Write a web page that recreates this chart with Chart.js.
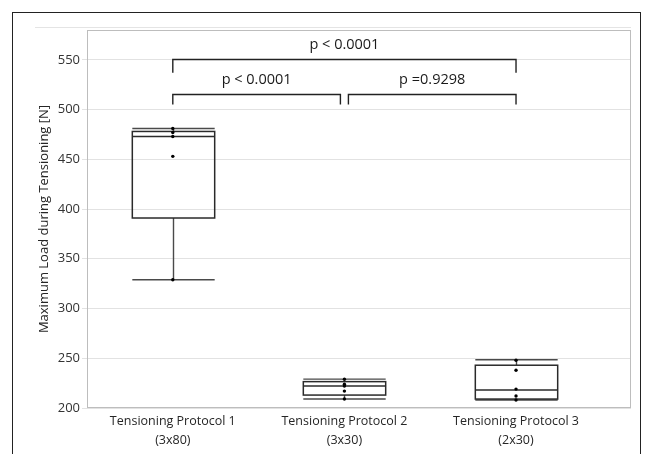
<!DOCTYPE html>
<html lang="en">
<head>
  <meta charset="UTF-8" />
  <title>Maximum Load during Tensioning</title>
  <script src="https://cdn.jsdelivr.net/npm/chart.js"></script>
  <style>
    html, body { margin: 0; padding: 0; background: #fff; overflow: hidden; }
    .outer {
      position: absolute;
      left: 12px;
      top: 12px;
      width: 629px;
      height: 442px;
      border: 1px solid #222;
      border-bottom: none;
      box-sizing: border-box;
    }
    canvas { position: absolute; left: 0; top: 0; }
  </style>
</head>
<body>
  <div class="outer"></div>
  <canvas id="loadChart" width="645" height="454"></canvas>

  <script>
    const protocols = ['Tensioning Protocol 1', 'Tensioning Protocol 2', 'Tensioning Protocol 3'];
    const protocolSets = ['(3x80)', '(3x30)', '(2x30)'];
    const yTicks = [200, 250, 300, 350, 400, 450, 500, 550];

    // box statistics per protocol
    const whiskerLow = [329, 209, 208];
    const q1 = [391, 213, 209];
    const median = [473, 222, 218];
    const q3 = [478, 226.5, 243];
    const whiskerHigh = [481, 229, 248.5];

    // individual measurements
    const points1 = [481, 477, 473, 453, 329];
    const points2 = [229, 224, 222, 217, 209];
    const points3 = [248, 238, 219, 212, 208];

    // significance brackets: [from, to], label
    const pairs = [[1, 3], [1, 2], [2, 3]];
    const pLabels = ['p < 0.0001', 'p < 0.0001', 'p =0.9298'];

    const FONT = '"Open Sans", sans-serif';

    const scatterData = []
      .concat(points1.map(v => ({ x: 1, y: v })))
      .concat(points2.map(v => ({ x: 2, y: v })))
      .concat(points3.map(v => ({ x: 3, y: v })));

    const boxPlugin = {
      id: 'boxes',
      beforeDatasetsDraw(chart) {
        const { ctx, chartArea, scales: { x, y } } = chart;
        ctx.save();

        // faint line above plot + plot frame
        ctx.strokeStyle = '#e4e4e4';
        ctx.lineWidth = 1;
        ctx.beginPath();
        ctx.moveTo(35, chartArea.top - 2.5);
        ctx.lineTo(chartArea.right, chartArea.top - 2.5);
        ctx.stroke();
        ctx.strokeStyle = '#bdbdbd';
        ctx.strokeRect(chartArea.left + 0.5, chartArea.top + 0.5,
          chartArea.right - chartArea.left - 1, chartArea.bottom - chartArea.top - 1);

        const half = (x.getPixelForValue(2) - x.getPixelForValue(1)) * 0.24;
        for (let i = 0; i < protocols.length; i++) {
          const cx = Math.round(x.getPixelForValue(i + 1)) + 0.5;
          const yl = y.getPixelForValue(whiskerLow[i]);
          const y1 = y.getPixelForValue(q1[i]);
          const ym = y.getPixelForValue(median[i]);
          const y3 = y.getPixelForValue(q3[i]);
          const yh = y.getPixelForValue(whiskerHigh[i]);

          // whiskers
          ctx.strokeStyle = '#4a4a4a';
          ctx.lineWidth = 1.4;
          ctx.beginPath();
          ctx.moveTo(cx, y1); ctx.lineTo(cx, yl);
          ctx.moveTo(cx, y3); ctx.lineTo(cx, yh);
          ctx.moveTo(cx - half, yl); ctx.lineTo(cx + half, yl);
          ctx.moveTo(cx - half, yh); ctx.lineTo(cx + half, yh);
          ctx.stroke();

          // box + median
          ctx.strokeStyle = '#2a2a2a';
          ctx.lineWidth = 1.5;
          ctx.strokeRect(cx - half, y3, half * 2, y1 - y3);
          ctx.beginPath();
          ctx.moveTo(cx - half, ym); ctx.lineTo(cx + half, ym);
          ctx.stroke();
        }
        ctx.restore();
      },
      afterDraw(chart) {
        const { ctx, scales: { x, y } } = chart;
        ctx.save();
        ctx.strokeStyle = '#222';
        ctx.lineWidth = 1.4;
        ctx.fillStyle = '#1a1a1a';
        ctx.font = '14.5px ' + FONT;
        ctx.textAlign = 'center';
        ctx.textBaseline = 'middle';
        // levels in data units: [bar, leg end, text]
        const levels = [[551, 537, 565], [516, 505, 530], [516, 505, 530]];
        pairs.forEach((pair, k) => {
          let xa = x.getPixelForValue(pair[0]);
          let xb = x.getPixelForValue(pair[1]);
          if (k === 1) xb -= 4;
          if (k === 2) xa += 4;
          const yb = Math.round(y.getPixelForValue(levels[k][0])) + 0.5;
          const yl = y.getPixelForValue(levels[k][1]);
          ctx.beginPath();
          ctx.moveTo(xa, yl); ctx.lineTo(xa, yb); ctx.lineTo(xb, yb); ctx.lineTo(xb, yl);
          ctx.stroke();
          ctx.fillText(pLabels[k], (xa + xb) / 2, y.getPixelForValue(levels[k][2]));
        });
        ctx.restore();
      }
    };

    new Chart(document.getElementById('loadChart'), {
      type: 'scatter',
      data: {
        datasets: [{
          data: scatterData,
          pointRadius: 1.7,
          pointHoverRadius: 1.7,
          backgroundColor: '#000',
          borderWidth: 0,
          clip: false
        }]
      },
      options: {
        responsive: false,
        animation: false,
        events: [],
        layout: { padding: { left: 0, top: 30, right: 14, bottom: 0 } },
        plugins: { legend: { display: false }, tooltip: { enabled: false } },
        scales: {
          x: {
            type: 'linear',
            min: 0.5,
            max: 3.67,
            grid: { display: false, drawTicks: false },
            border: { display: false },
            afterBuildTicks: s => { s.ticks = protocols.map((_, i) => ({ value: i + 1 })); },
            afterFit: s => { s.height = 46; },
            ticks: {
              autoSkip: false,
              maxRotation: 0,
              padding: 4,
              color: '#262626',
              font: { family: FONT, size: 12.5, lineHeight: 1.5 },
              callback: (v, i) => [protocols[i], protocolSets[i]]
            }
          },
          y: {
            min: 200,
            max: 580,
            afterBuildTicks: s => { s.ticks = yTicks.map(v => ({ value: v })); },
            afterFit: s => { s.width = 87; },
            grid: { color: '#e2e2e2', tickLength: 5 },
            border: { display: false },
            ticks: { color: '#333', padding: 2, font: { family: FONT, size: 13 } },
            title: {
              display: true,
              text: 'Maximum Load during Tensioning [N]',
              color: '#262626',
              font: { family: FONT, size: 13 },
              padding: { top: 36, bottom: 0 }
            }
          }
        }
      },
      plugins: [boxPlugin]
    });
  </script>
</body>
</html>
